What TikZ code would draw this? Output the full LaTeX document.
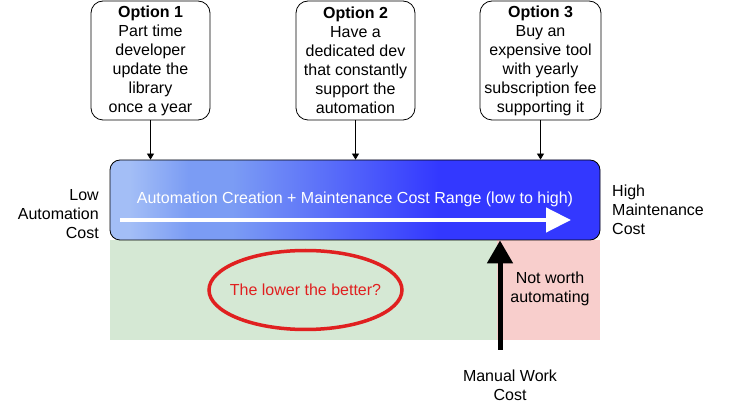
\documentclass[tikz,border=0pt]{standalone}
\usepackage{fontspec}
\setmainfont{Liberation Sans}
\usetikzlibrary{arrows.meta,shapes.geometric}
\definecolor{barlight}{HTML}{A3BEF6}
\definecolor{barmid}{HTML}{7B9CF4}
\definecolor{bardark}{HTML}{3338FF}
\definecolor{greenfill}{HTML}{D5E8D4}
\definecolor{pinkfill}{HTML}{F8CECC}
\definecolor{redline}{HTML}{E02020}
\pgfdeclarehorizontalshading{barshade}{100bp}{color(0bp)=(barlight); color(25bp)=(barlight); color(27bp)=(barlight); color(33bp)=(barmid); color(37.5bp)=(barmid); color(58.5bp)=(bardark); color(75bp)=(bardark); color(100bp)=(bardark)}
\tikzset{
  txt/.style={font=\fontsize{16}{19}\selectfont},
  optbox/.style={txt, draw=black, line width=0.8pt, fill=white, rounded corners=12pt,
    minimum width=119pt, minimum height=119pt, align=center, inner sep=0pt},
  optarrow/.style={line width=0.8pt, -{Triangle[length=6pt,width=7pt]}},
  region/.style={draw=none, inner sep=0pt, anchor=north west},
}
\begin{document}
\begin{tikzpicture}[x=1pt,y=-1pt]
\useasboundingbox (0,0) rectangle (731,411);
% regions
\node[region, fill=greenfill, minimum width=387pt, minimum height=100pt] (good) at (110,240) {};
\node[region, fill=pinkfill, minimum width=103pt, minimum height=100pt] (bad) at (497,240) {};
% bar
\node[draw=black, line width=0.8pt, rounded corners=10pt, shading=barshade,
  minimum width=490pt, minimum height=80pt, inner sep=0pt] (bar) at (355,200) {};
\node[txt, text=white] (barlabel) at (355,199) {Automation Creation + Maintenance Cost Range (low to high)};
\coordinate (wa) at (120,220);
\coordinate (wb) at (571,220);
\draw[white, line width=4.5pt, -{Triangle[length=25pt,width=24pt]}] (wa) -- (wb);
% option boxes
\node[optbox] (o1) at (150.5,60.5) {\textbf{Option 1}\\Part time\\developer\\update the\\library\\once a year};
\node[optbox] (o2) at (355.5,60.5) {\textbf{Option 2}\\Have a\\dedicated dev\\that constantly\\support the\\automation};
\node[optbox, minimum width=121pt] (o3) at (540.5,60.5) {\textbf{Option 3}\\Buy an\\expensive tool\\with yearly\\subscription fee\\supporting it};
\draw[optarrow] (o1.south) -- (o1.south |- bar.north);
\draw[optarrow] (o2.south) -- (o2.south |- bar.north);
\draw[optarrow] (o3.south) -- (o3.south |- bar.north);
% side labels
\node[txt, align=right, anchor=east, inner sep=0pt] (low) at (99,214) {Low\\Automation\\Cost};
\node[txt, align=left, anchor=west, inner sep=0pt] (high) at (612,210) {High\\Maintenance\\Cost};
% ellipse
\node[txt, text=redline] (lower) at (305.5,290) {The lower the better?};
\draw[redline, line width=3.5pt] (lower.center) ellipse [x radius=96.5pt, y radius=39.5pt];
% not worth
\node[txt, align=center] (notworth) at (550,289) {Not worth\\automating};
% manual work cost
\node[txt, align=center] (manual) at (510,385) {Manual Work\\Cost};
\coordinate (ma) at (500,350);
\draw[black, line width=5pt, -{Triangle[length=23pt,width=25pt]}] (ma) -- (ma |- bar.south);
\end{tikzpicture}
\end{document}
